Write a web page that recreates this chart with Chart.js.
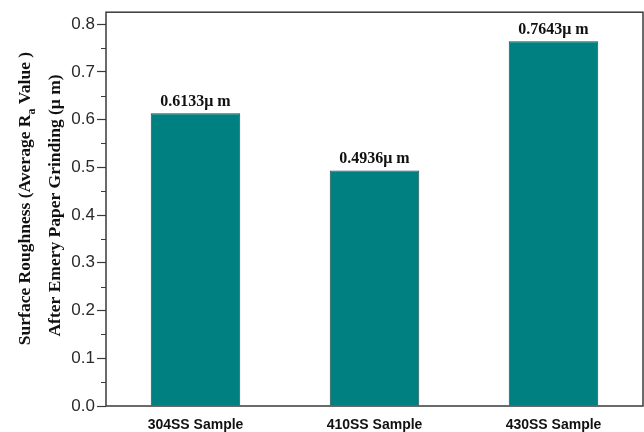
<!DOCTYPE html>
<html>
<head>
<meta charset="utf-8">
<script src="https://cdn.jsdelivr.net/npm/chart.js@4.4.1/dist/chart.umd.min.js"></script>
<style>
  html, body { margin: 0; padding: 0; background: #ffffff; }
  #wrap { width: 644px; height: 432px; position: relative; }
</style>
</head>
<body>
<div id="wrap"><canvas id="chart" width="644" height="432"></canvas></div>
<script>
// Surface roughness of each stainless steel sample after emery paper grinding
const samples = ['304SS Sample', '410SS Sample', '430SS Sample'];
const roughness = [0.6133, 0.4936, 0.7643];
const yMajorTicks = [0, 0.1, 0.2, 0.3, 0.4, 0.5, 0.6, 0.7, 0.8];
const yMinorTicks = [0.05, 0.15, 0.25, 0.35, 0.45, 0.55, 0.65, 0.75];

const barColor = '#008080';
const frameColor = '#3a3a3a';

// Frame, minor ticks, value labels and the two-line y title (with subscript)
const decorations = {
  id: 'decorations',
  afterDatasetsDraw(chart) {
    const { ctx, chartArea: a, scales } = chart;
    const y = scales.y;
    ctx.save();

    // plot frame
    ctx.strokeStyle = frameColor;
    ctx.lineWidth = 1.5;
    ctx.strokeRect(a.left, a.top, a.right - a.left, a.bottom - a.top);

    // minor ticks on the value axis
    ctx.lineWidth = 1.2;
    ctx.beginPath();
    yMinorTicks.forEach(v => {
      const py = Math.round(y.getPixelForValue(v)) + 0.5;
      ctx.moveTo(a.left - 5, py);
      ctx.lineTo(a.left, py);
    });
    ctx.stroke();

    // value labels above bars
    const meta = chart.getDatasetMeta(0);
    ctx.fillStyle = '#111';
    ctx.font = 'bold 16px "Liberation Serif", "Times New Roman", serif';
    ctx.textAlign = 'center';
    ctx.textBaseline = 'alphabetic';
    meta.data.forEach((bar, i) => {
      ctx.fillText(roughness[i].toFixed(4) + '\u03bc m', bar.x, bar.y - 7);
    });

    // y-axis title, two rotated lines
    const serif = '"Liberation Serif", "Times New Roman", serif';
    const big = 'bold 17.5px ' + serif;
    const small = 'bold 12px ' + serif;
    ctx.fillStyle = '#111';
    ctx.textAlign = 'left';

    // line 1: Surface Roughness (Average R_a Value )
    const parts = [
      { t: 'Surface Roughness (Average R', f: big, dy: 0 },
      { t: 'a', f: small, dy: 5 },
      { t: ' Value )', f: big, dy: 0 }
    ];
    let total = 0;
    parts.forEach(p => { ctx.font = p.f; p.w = ctx.measureText(p.t).width; total += p.w; });
    ctx.save();
    ctx.translate(30, 198.5);
    ctx.rotate(-Math.PI / 2);
    let x = -total / 2;
    parts.forEach(p => {
      ctx.font = p.f;
      ctx.fillText(p.t, x, p.dy);
      x += p.w;
    });
    ctx.restore();

    // line 2
    ctx.save();
    ctx.translate(60, 205.5);
    ctx.rotate(-Math.PI / 2);
    ctx.font = big;
    ctx.textAlign = 'center';
    ctx.fillText('After Emery Paper Grinding (\u03bc m)', 0, 0);
    ctx.restore();

    ctx.restore();
  }
};

new Chart(document.getElementById('chart'), {
  type: 'bar',
  data: {
    labels: samples,
    datasets: [{
      data: roughness,
      backgroundColor: barColor,
      borderColor: '#2b4a4a',
      borderWidth: 1,
      barPercentage: 0.5,
      categoryPercentage: 1.0
    }]
  },
  options: {
    responsive: false,
    animation: false,
    devicePixelRatio: 1,
    layout: { padding: { top: 9, right: 1, left: 0, bottom: 0 } },
    plugins: {
      legend: { display: false },
      tooltip: { enabled: false }
    },
    scales: {
      x: {
        grid: { display: false, drawTicks: false },
        border: { display: false },
        ticks: {
          color: '#111',
          font: { family: '"Liberation Sans", Arial, sans-serif', size: 14, weight: 'bold' },
          padding: 11,
          maxRotation: 0
        },
        afterFit(scale) { scale.height = 26; }
      },
      y: {
        min: 0,
        max: 0.825,
        afterBuildTicks(scale) { scale.ticks = yMajorTicks.map(v => ({ value: v })); },
        grid: {
          drawOnChartArea: false,
          drawTicks: true,
          tickLength: 9,
          tickColor: frameColor,
          tickWidth: 1.2
        },
        border: { display: false },
        ticks: {
          color: '#2a2a2a',
          font: { family: '"Liberation Sans", Arial, sans-serif', size: 17 },
          padding: 2,
          callback: v => v.toFixed(1)
        },
        afterFit(scale) { scale.width = 106; }
      }
    }
  },
  plugins: [decorations]
});
</script>
</body>
</html>
